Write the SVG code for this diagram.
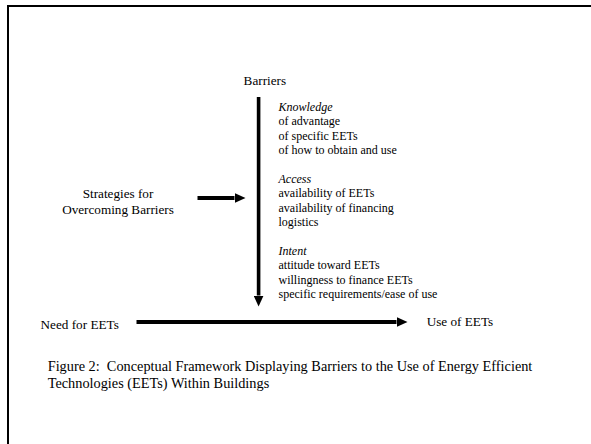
<svg xmlns="http://www.w3.org/2000/svg" width="591" height="444" viewBox="0 0 591 444">
  <style>
    text { font-family: "Liberation Serif", "Times New Roman", serif; fill: #000; }
    .lbl { font-size: 13.2px; }
    .lst { font-size: 12px; }
    .it { font-style: italic; }
    .cap { font-size: 14.3px; }
    .conn { stroke: #000; fill: none; }
  </style>
  <defs>
    <marker id="head" markerUnits="userSpaceOnUse" markerWidth="11" markerHeight="10" refX="0" refY="5" orient="auto">
      <path d="M0,0 L11,5 L0,10 Z" fill="#000"/>
    </marker>
  </defs>
  <rect x="8" y="6" width="600" height="460" fill="#fff" stroke="#000" stroke-width="2"/>

  <g id="connectors">
    <line class="conn" x1="197.5" y1="198" x2="234.5" y2="198" stroke-width="4" marker-end="url(#head)"/>
    <line class="conn" x1="258.6" y1="97" x2="258.6" y2="295.5" stroke-width="3.6" marker-end="url(#head)"/>
    <line class="conn" x1="136.5" y1="322" x2="396.5" y2="322" stroke-width="4" marker-end="url(#head)"/>
  </g>

  <g id="barriers">
    <text class="lbl" x="243.6" y="85">Barriers</text>
  </g>

  <g id="barrier-list">
    <text class="lst it" x="278.5" y="111">Knowledge</text>
    <text class="lst" x="278.5" y="125.4">of advantage</text>
    <text class="lst" x="278.5" y="139.8">of specific EETs</text>
    <text class="lst" x="278.5" y="154.2">of how to obtain and use</text>
    <text class="lst it" x="278.5" y="183">Access</text>
    <text class="lst" x="278.5" y="197.4">availability of EETs</text>
    <text class="lst" x="278.5" y="211.8">availability of financing</text>
    <text class="lst" x="278.5" y="226.2">logistics</text>
    <text class="lst it" x="278.5" y="255">Intent</text>
    <text class="lst" x="278.5" y="269.4">attitude toward EETs</text>
    <text class="lst" x="278.5" y="283.8">willingness to finance EETs</text>
    <text class="lst" x="278.5" y="298.2">specific requirements/ease of use</text>
  </g>

  <g id="strategies">
    <text class="lbl" x="118" y="198.3" text-anchor="middle">Strategies for</text>
    <text class="lbl" x="118" y="214.3" text-anchor="middle">Overcoming Barriers</text>
  </g>

  <g id="need">
    <text class="lbl" x="40.6" y="329">Need for EETs</text>
  </g>

  <g id="use">
    <text class="lbl" x="426.7" y="326.3">Use of EETs</text>
  </g>

  <g id="caption">
    <text class="cap" x="47.7" y="371.2" xml:space="preserve">Figure 2:  Conceptual Framework Displaying Barriers to the Use of Energy Efficient</text>
    <text class="cap" x="47.7" y="387.8">Technologies (EETs) Within Buildings</text>
  </g>
</svg>
